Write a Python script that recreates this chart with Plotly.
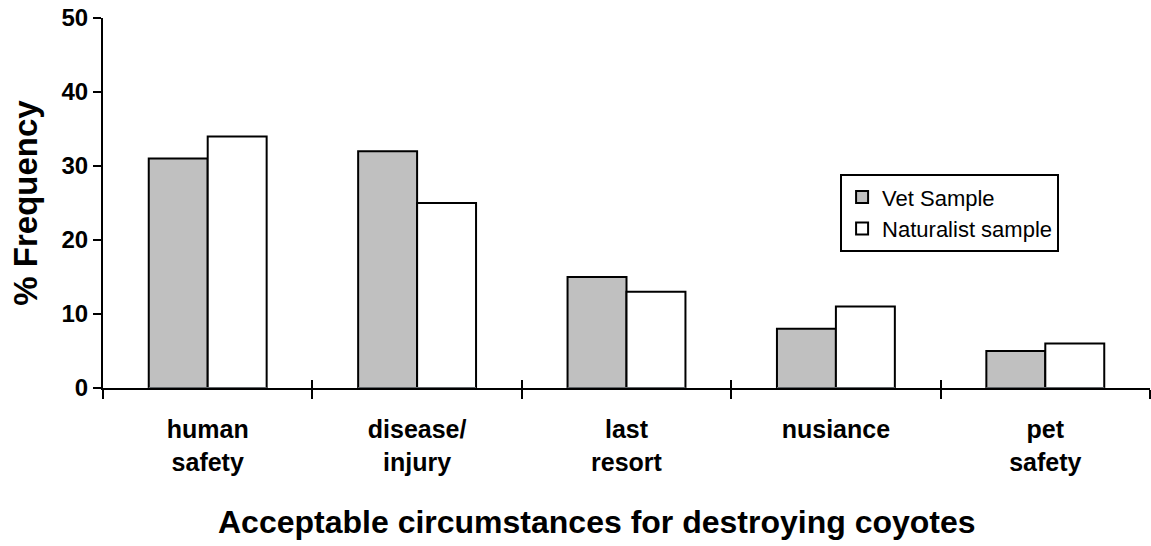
import plotly.graph_objects as go

categories = ["human<br>safety", "disease/<br>injury", "last<br>resort", "nusiance", "pet<br>safety"]
vet_sample = [31, 32, 15, 8, 5]
naturalist_sample = [34, 25, 13, 11, 6]
y_ticks = [0, 10, 20, 30, 40, 50]

FONT = "Liberation Sans, Arial, sans-serif"

fig = go.Figure()
fig.add_trace(go.Bar(name="Vet Sample", x=categories, y=vet_sample,
                     marker=dict(color="#c0c0c0", line=dict(color="black", width=2))))
fig.add_trace(go.Bar(name="Naturalist sample", x=categories, y=naturalist_sample,
                     marker=dict(color="white", line=dict(color="black", width=2))))

fig.update_layout(
    width=1151, height=546,
    margin=dict(l=103, r=1, t=18, b=158),
    paper_bgcolor="white", plot_bgcolor="white",
    barmode="group", bargap=0.437, bargroupgap=0,
    font=dict(family=FONT, color="black"),
    legend=dict(x=0.704, y=0.578, xanchor="left", yanchor="top",
                bordercolor="black", borderwidth=2,
                font=dict(size=22, family=FONT),
                itemsizing="constant", tracegroupgap=0),
    xaxis=dict(showline=True, linecolor="black", linewidth=2,
               ticks="outside", tickson="boundaries", ticklen=9, tickwidth=2, tickcolor="black",
               tickfont=dict(size=25, family=FONT, weight="bold"),
               ticklabelstandoff=18,
               showgrid=False, zeroline=False),
    xaxis2=dict(overlaying="x", matches="x", showline=False,
                ticks="inside", tickson="boundaries", ticklen=8, tickwidth=2, tickcolor="black",
                showticklabels=False, showgrid=False, zeroline=False, side="bottom"),
    yaxis=dict(range=[0, 50], tickvals=y_ticks, showline=True, linecolor="black", linewidth=2,
               ticks="outside", ticklen=8, tickwidth=2, tickcolor="black",
               tickfont=dict(size=24, family=FONT, weight="bold"),
               title=dict(text="<b>% Frequency</b>", font=dict(size=33, family=FONT), standoff=14),
               showgrid=False, zeroline=False),
)
fig.add_annotation(text="<b>Acceptable circumstances for destroying coyotes</b>",
                   xref="paper", yref="paper", x=0.472, y=-0.362,
                   xanchor="center", yanchor="middle", showarrow=False,
                   font=dict(size=32, family=FONT, color="black"))
# invisible trace to carry the inside ticks of the overlay axis
fig.add_trace(go.Bar(x=categories, y=[0]*len(categories), xaxis="x2", showlegend=False,
                     hoverinfo="skip", marker=dict(color="rgba(0,0,0,0)")))

fig.write_html("out.html")
